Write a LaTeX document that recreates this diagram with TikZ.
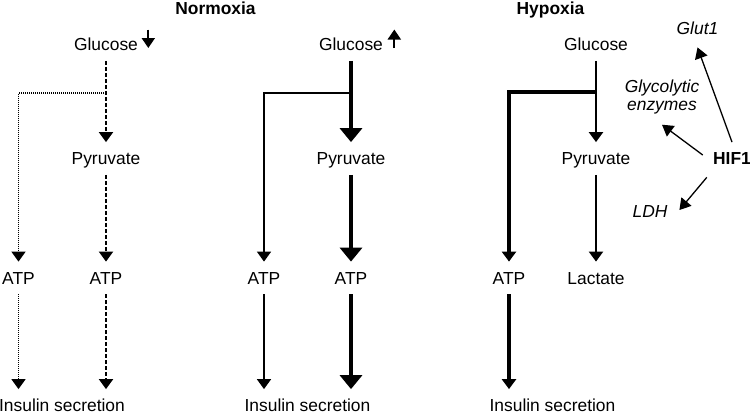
\documentclass[tikz,border=0pt]{standalone}
\usepackage{fontspec}
\setmainfont{Liberation Sans}
\usepackage{tikz}
\usetikzlibrary{arrows.meta}
\tikzset{
        mol/.style = {align=center, inner sep=1pt, text height=6.2pt, text depth=0pt,
            minimum height=16pt, font=\fontsize{8.7}{9.2}\selectfont},
        mol_b/.style = {mol, font=\fontsize{8.7}{9.2}\selectfont\bfseries},
        mol_i/.style = {mol, font=\fontsize{8.7}{9.2}\selectfont\itshape},
        gene_m/.style = {align=center, inner sep=1pt,
            font=\fontsize{8.7}{9.2}\selectfont\itshape},
        tip_s/.style = {-{Triangle[length=5pt,width=7pt]}},
        tip_l/.style = {-{Triangle[length=7pt,width=11pt]}},
        flux_dot/.style = {tip_s, line width=0.8pt, dash pattern=on 0.45pt off 0.55pt},
        flux_dash/.style = {tip_s, line width=1pt, dash pattern=on 2pt off 1pt},
        flux_thin/.style = {tip_s, line width=0.85pt},
        flux_mid/.style = {tip_s, line width=1.1pt},
        flux_bold/.style = {tip_s, line width=1.6pt},
        flux_thick/.style = {tip_l, line width=1.9pt},
        trend/.style = {-{Triangle[length=5pt,width=6.5pt]}, line width=1pt},
        hif_arr/.style = {-{Triangle[length=5.5pt,width=6.5pt]}, line width=0.65pt}
    }
\begin{document}
\begin{tikzpicture}[x=0.5pt,y=-0.5pt]
            \useasboundingbox (0,0) rectangle (750,414);
            % NORMOXIA, low glucose
            \node [mol_b] (nor) at (215.5,8) {Normoxia};
            \node [mol] (glc1) at (106,44.5) {Glucose};
            \node [mol] (pyr1) at (106,158.5) {Pyruvate};
            \node [mol] (atp1a) at (18.5,278) {ATP};
            \node [mol] (atp1b) at (106,278) {ATP};
            \node [mol] (ins1) at (62,405.5) {Insulin secretion};
            \coordinate (br1) at (106,93);
            \draw [trend] ([xshift=4pt,yshift=7.5pt]glc1.east) -- ([xshift=4pt,yshift=-1.75pt]glc1.east);
            \draw [flux_dash] (glc1) -- (pyr1);
            \draw [flux_dot] (br1) -| (atp1a);
            \draw [flux_dash] (pyr1) -- (atp1b);
            \draw [flux_dot] (atp1a) -- (atp1a |- ins1.north);
            \draw [flux_dash] (atp1b) -- (atp1b |- ins1.north);
            % NORMOXIA, high glucose
            \node [mol] (glc2) at (351,44.5) {Glucose};
            \node [mol] (pyr2) at (351,158.5) {Pyruvate};
            \node [mol] (atp2a) at (264,278) {ATP};
            \node [mol] (atp2b) at (351,278) {ATP};
            \node [mol] (ins2) at (307.5,405.5) {Insulin secretion};
            \coordinate (br2) at (351,93);
            \draw [trend] ([xshift=4.5pt,yshift=-1.75pt]glc2.east) -- ([xshift=4.5pt,yshift=7.5pt]glc2.east);
            \draw [flux_thick] (glc2) -- (pyr2);
            \draw [flux_thin] (br2) -| (atp2a);
            \draw [flux_thick] (pyr2) -- (atp2b);
            \draw [flux_thin] (atp2a) -- (atp2a |- ins2.north);
            \draw [flux_thick] (atp2b) -- (atp2b |- ins2.north);
            % HYPOXIA
            \node [mol_b] (hyp) at (550.5,8) {Hypoxia};
            \node [mol] (glc3) at (596,44.5) {Glucose};
            \node [mol] (pyr3) at (596,158.5) {Pyruvate};
            \node [mol] (atp3) at (509,278) {ATP};
            \node [mol] (lac3) at (596,278) {Lactate};
            \node [mol] (ins3) at (552.5,405.5) {Insulin secretion};
            \coordinate (br3) at (596,92);
            \draw [flux_mid] (glc3) -- (pyr3);
            \draw [flux_bold] (br3) -| (atp3);
            \draw [flux_mid] (pyr3) -- (lac3);
            \draw [flux_bold] (atp3) -- (atp3 |- ins3.north);
            % HIF1 targets
            \node [mol_b] (hif) at (732,158.5) {HIF1};
            \node [mol_i] (glut) at (697.5,28) {Glut1};
            \node [gene_m] (glyc) at (662,97) {Glycolytic\\enzymes};
            \node [mol_i] (ldh) at (650,211) {LDH};
            \draw [hif_arr] (hif.north) -- ([yshift=-1.5pt]glut.south);
            \draw [hif_arr] ([xshift=-4pt,yshift=1.75pt]hif.west) -- ([yshift=-4pt]glyc.south);
            \draw [hif_arr] ([xshift=-2pt,yshift=-1.25pt]hif.south west) -- ([xshift=4.8pt,yshift=0.5pt]ldh.east);
\end{tikzpicture}
\end{document}
